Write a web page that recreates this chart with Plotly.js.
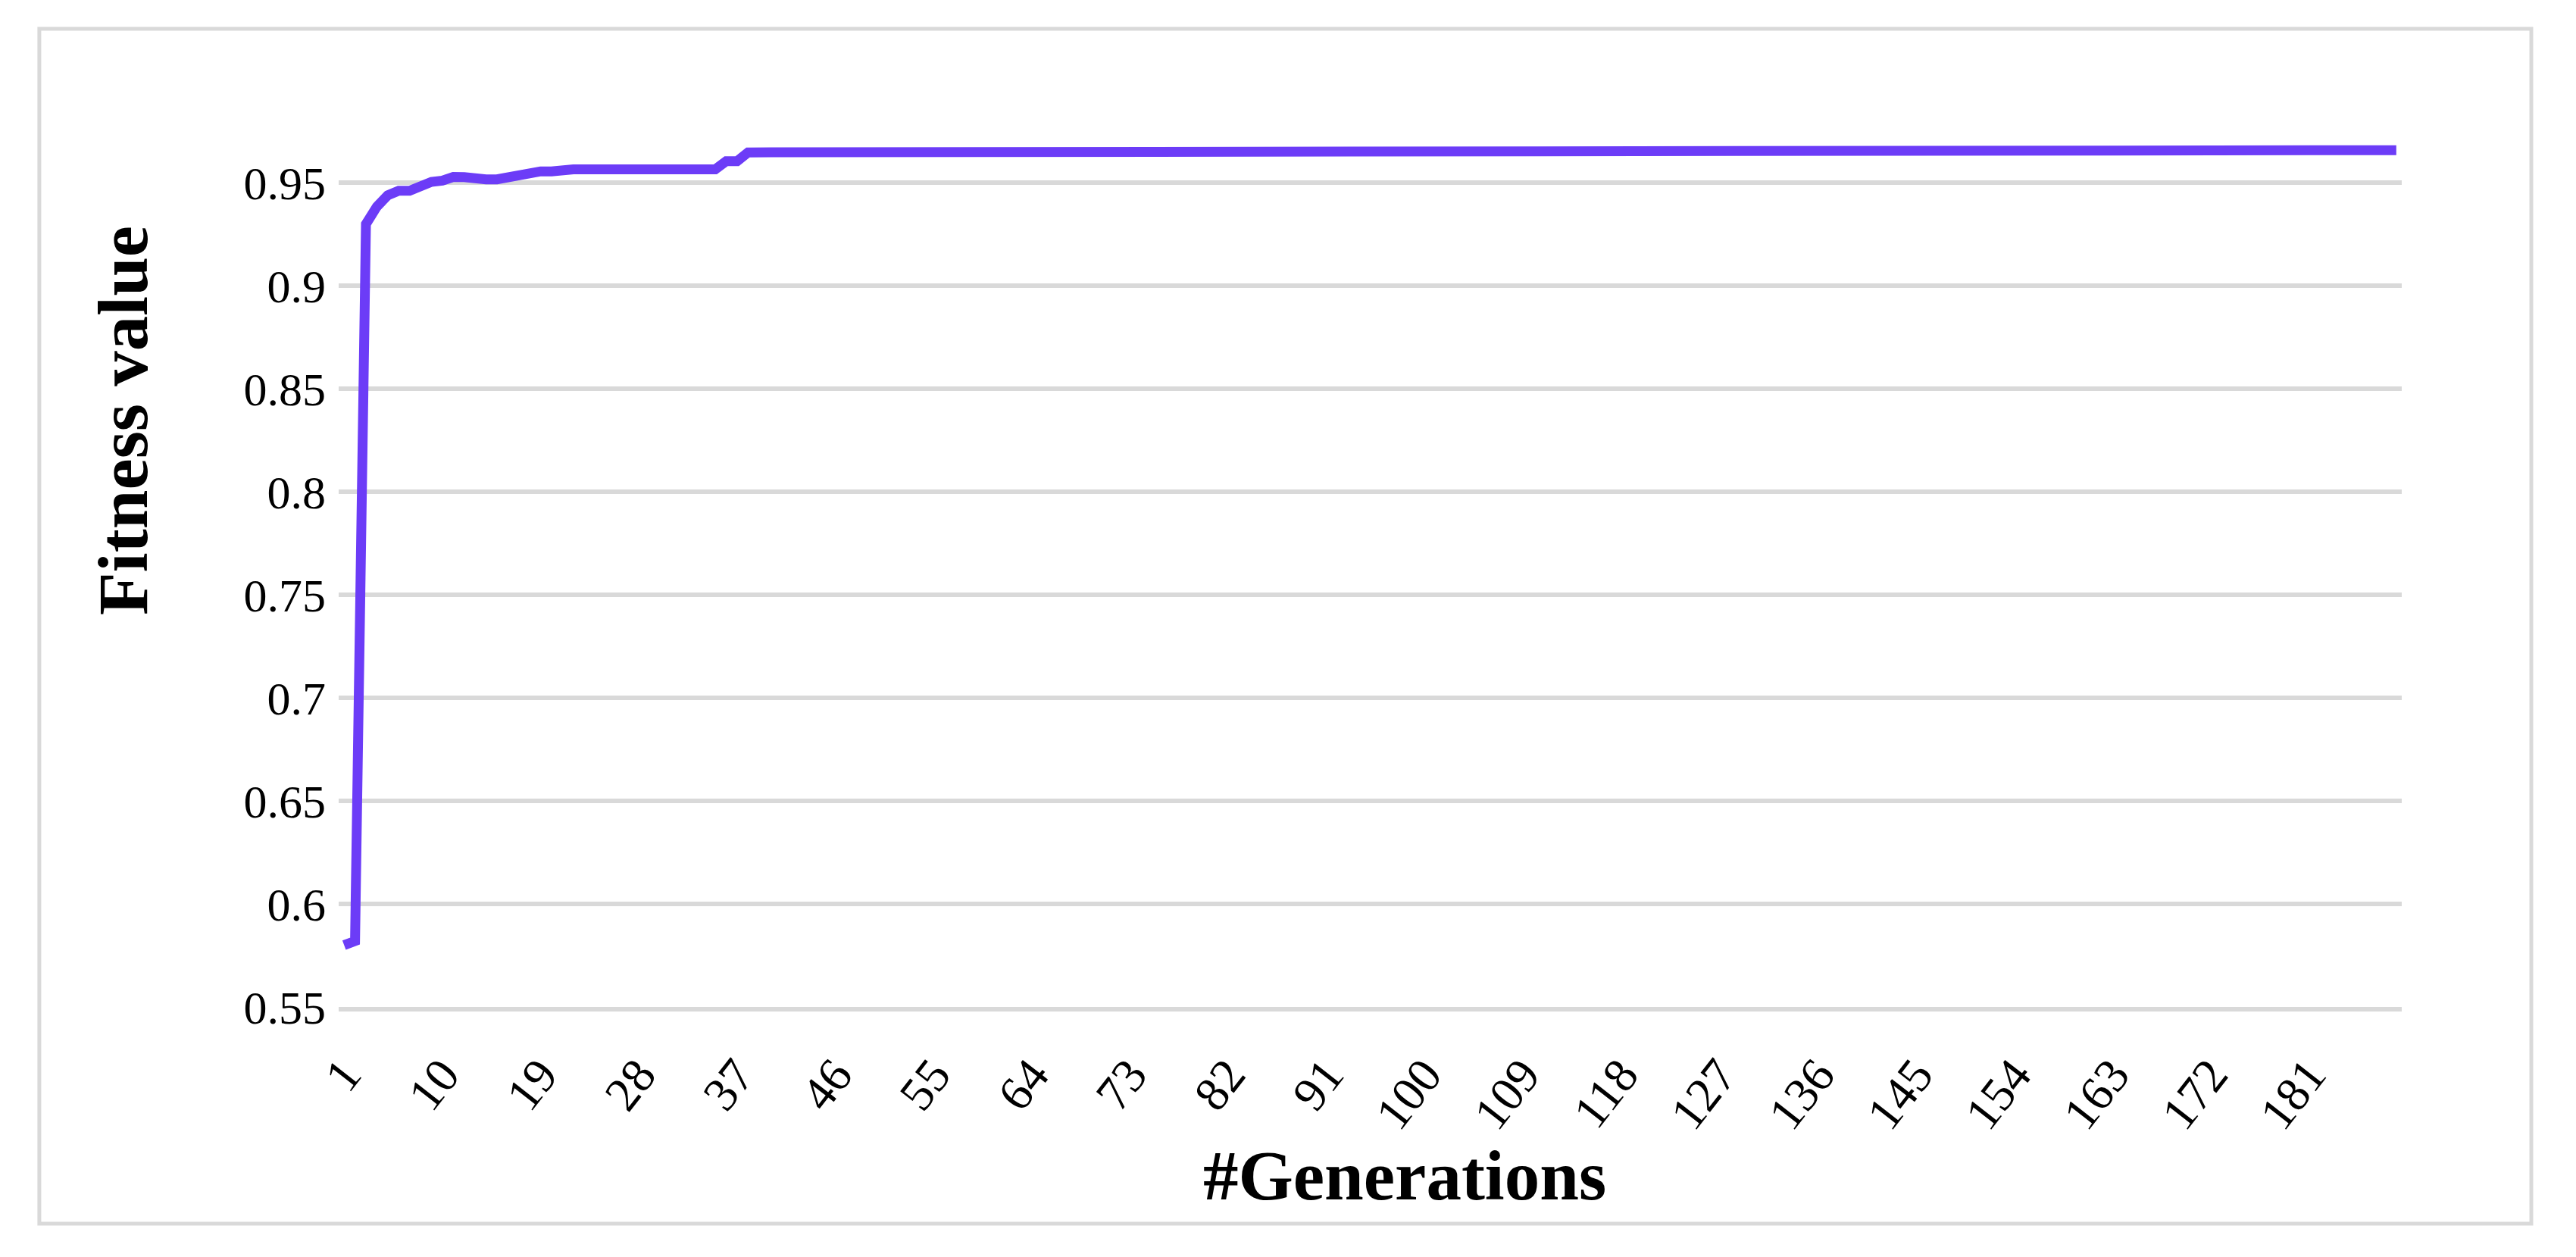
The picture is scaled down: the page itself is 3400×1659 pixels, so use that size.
<!DOCTYPE html>
<html>
<head>
<meta charset="utf-8">
<script src="https://cdn.plot.ly/plotly-3.0.1.min.js"></script>
<style>
  html, body { margin: 0; padding: 0; background: #ffffff; }
  #chart { width: 3400px; height: 1659px; }
</style>
</head>
<body>
<div id="chart"></div>
<script>
// Generation numbers (categories)
const generations = [
  1,2,3,4,5,6,7,8,9,10,11,12,13,14,15,16,17,18,19,20,
  21,22,23,24,25,26,27,28,29,30,31,32,33,34,35,36,37,38,39,40,
  41,42,43,44,45,46,47,48,49,50,51,52,53,54,55,56,57,58,59,60,
  61,62,63,64,65,66,67,68,69,70,71,72,73,74,75,76,77,78,79,80,
  81,82,83,84,85,86,87,88,89,90,91,92,93,94,95,96,97,98,99,100,
  101,102,103,104,105,106,107,108,109,110,111,112,113,114,115,116,117,118,119,120,
  121,122,123,124,125,126,127,128,129,130,131,132,133,134,135,136,137,138,139,140,
  141,142,143,144,145,146,147,148,149,150,151,152,153,154,155,156,157,158,159,160,
  161,162,163,164,165,166,167,168,169,170,171,172,173,174,175,176,177,178,179,180,
  181,182,183,184,185,186,187,188,189
];

// Best fitness value per generation
const fitness = [
  0.580,0.582,0.930,0.9385,0.944,0.9462,0.9462,0.9485,0.9505,0.9511,
  0.9529,0.9528,0.9517,0.9517,0.9517,0.9528,0.9533,0.955,0.9556,0.9556,
  0.9566,0.9566,0.9566,0.9566,0.9566,0.9566,0.9566,0.9566,0.9566,0.9566,
  0.9566,0.9566,0.9566,0.9566,0.9566,0.9605,0.9605,0.9648,0.9648,0.9659,
  0.9659,0.9659,0.9659,0.9659,0.9659,0.9659,0.9659,0.9659,0.9659,0.9659,
  0.9659,0.9659,0.9659,0.9659,0.9659,0.9659,0.9659,0.9659,0.9659,0.9659,
  0.9659,0.9659,0.9659,0.9659,0.9659,0.9659,0.9659,0.9659,0.9659,0.9659,
  0.9659,0.9659,0.9659,0.9659,0.9659,0.9659,0.9659,0.9659,0.9659,0.9659,
  0.9659,0.9659,0.9659,0.9659,0.9659,0.9659,0.9659,0.9659,0.9659,0.9659,
  0.9659,0.9659,0.9659,0.9659,0.9659,0.9659,0.9659,0.9659,0.9659,0.9659,
  0.9659,0.9659,0.9659,0.9659,0.9659,0.9659,0.9659,0.9659,0.9659,0.9659,
  0.9659,0.9659,0.9659,0.9659,0.9659,0.9659,0.9659,0.9659,0.9659,0.9659,
  0.9659,0.9659,0.9653,0.9659,0.9659,0.9659,0.9659,0.9659,0.9659,0.9659,
  0.9659,0.9659,0.9659,0.9659,0.9659,0.9659,0.9659,0.9659,0.9659,0.9659,
  0.9659,0.9659,0.9659,0.9659,0.9659,0.9659,0.9659,0.9659,0.9659,0.9659,
  0.9659,0.9659,0.9659,0.9659,0.9659,0.9659,0.9659,0.9659,0.9659,0.9659,
  0.9659,0.9659,0.9659,0.9659,0.9659,0.9659,0.9659,0.9659,0.9659,0.9659,
  0.9659,0.9659,0.9659,0.9659,0.9659,0.9659,0.9659,0.9659,0.9659,0.9659,
  0.9659,0.9659,0.9659,0.9659,0.9659,0.9659,0.9659,0.9659,0.9659
];

// Axis tick labels
const xTickLabels = ['1','10','19','28','37','46','55','64','73','82','91','100','109','118','127','136','145','154','163','172','181'];
const yTickValues = [0.55,0.6,0.65,0.7,0.75,0.8,0.85,0.9,0.95];
const yTickLabels = ['0.55','0.6','0.65','0.7','0.75','0.8','0.85','0.9','0.95'];

const xTitle = '#Generations';
const yTitle = 'Fitness value';

const FONT = '"Palatino Linotype", "Book Antiqua", Palatino, "Liberation Serif", serif';
const GRID = '#d9d9d9';

const trace = {
  type: 'scatter',
  mode: 'lines',
  x: generations,
  y: fitness,
  line: { color: '#6c3cf7', width: 13, shape: 'linear' },
  hoverinfo: 'x+y',
  showlegend: false
};

const layout = {
  width: 3400,
  height: 1659,
  paper_bgcolor: '#ffffff',
  plot_bgcolor: '#ffffff',
  margin: { l: 447, r: 230, t: 187, b: 330, pad: 0 },
  font: { family: FONT, color: '#000000', size: 60 },
  showlegend: false,
  xaxis: {
    range: [0.5, generations.length + 0.5],
    tickmode: 'array',
    tickvals: xTickLabels.map(Number),
    ticktext: xTickLabels,
    tickangle: -52,
    ticks: '',
    showgrid: false,
    zeroline: false,
    showline: true,
    linecolor: GRID,
    linewidth: 6,
    ticklabelstandoff: 20,
    tickfont: { family: FONT, size: 64, color: '#000000' },
    title: { text: '' }
  },
  yaxis: {
    range: [0.55, 0.97],
    tickmode: 'array',
    tickvals: yTickValues,
    ticktext: yTickLabels,
    ticks: '',
    showgrid: true,
    gridcolor: GRID,
    gridwidth: 6,
    zeroline: false,
    showline: false,
    ticklabelstandoff: 16,
    tickfont: { family: FONT, size: 62, color: '#000000' },
    title: { text: '' }
  },
  annotations: [
    {
      text: '<b>' + xTitle + '</b>',
      xref: 'paper', yref: 'paper',
      x: 0.5167, y: -0.195,
      xanchor: 'center', yanchor: 'middle',
      showarrow: false,
      font: { family: FONT, size: 93, color: '#000000' }
    },
    {
      text: '<b>' + yTitle + '</b>',
      xref: 'paper', yref: 'paper',
      x: -0.1043, y: 0.6778,
      xanchor: 'center', yanchor: 'middle',
      textangle: -90,
      showarrow: false,
      font: { family: FONT, size: 93, color: '#000000' }
    }
  ],
  shapes: [
    {
      type: 'rect',
      xref: 'paper', yref: 'paper',
      x0: -0.1451, x1: 1.0628,
      y0: -0.2504, y1: 1.1305,
      line: { color: GRID, width: 5 },
      fillcolor: 'rgba(0,0,0,0)',
      layer: 'below'
    }
  ]
};

Plotly.newPlot('chart', [trace], layout, { displayModeBar: false, staticPlot: true });
</script>
</body>
</html>
